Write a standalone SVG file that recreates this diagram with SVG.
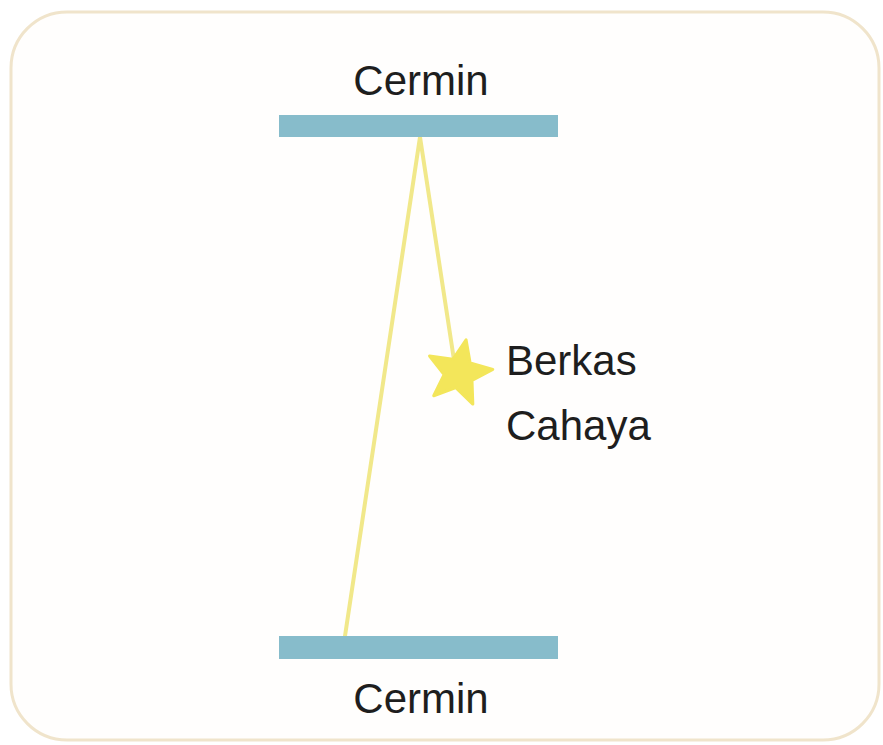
<svg xmlns="http://www.w3.org/2000/svg" width="883" height="745" viewBox="0 0 883 745">
<style>
.mirror{fill:#87bccb}
.ray{stroke:#f1e88a;stroke-width:4;fill:none;stroke-linecap:round}
.lbl{font-family:"Liberation Sans",Arial,sans-serif;font-size:42px;fill:#1e1e1e}
</style>
<rect x="0" y="0" width="883" height="745" fill="#ffffff"/>
<rect x="11" y="12" width="868" height="728" rx="56" ry="56" fill="#fffefd" stroke="#f0e4cb" stroke-width="3"/>
<g id="connectors">
<line class="ray" x1="420" y1="137" x2="345" y2="636"/>
<line class="ray" x1="420" y1="137" x2="454" y2="360"/>
</g>
<g id="mirror-top">
<rect class="mirror" x="279" y="115" width="279" height="22"/>
<text class="lbl" x="421" y="95" text-anchor="middle">Cermin</text>
</g>
<g id="mirror-bottom">
<rect class="mirror" x="279" y="636" width="279" height="23"/>
<text class="lbl" x="421" y="713" text-anchor="middle">Cermin</text>
</g>
<g id="light-source">
<polygon points="466.07,339.74 470.15,362.96 492.81,369.45 471.99,380.5 472.83,404.06 455.88,387.67 433.73,395.75 444.08,374.57 429.56,356 452.9,359.3" fill="#f3e65a" stroke="#f3e65a" stroke-width="3" stroke-linejoin="round"/>
<text class="lbl" x="506" y="375">Berkas</text>
<text class="lbl" x="506" y="440">Cahaya</text>
</g>
</svg>
